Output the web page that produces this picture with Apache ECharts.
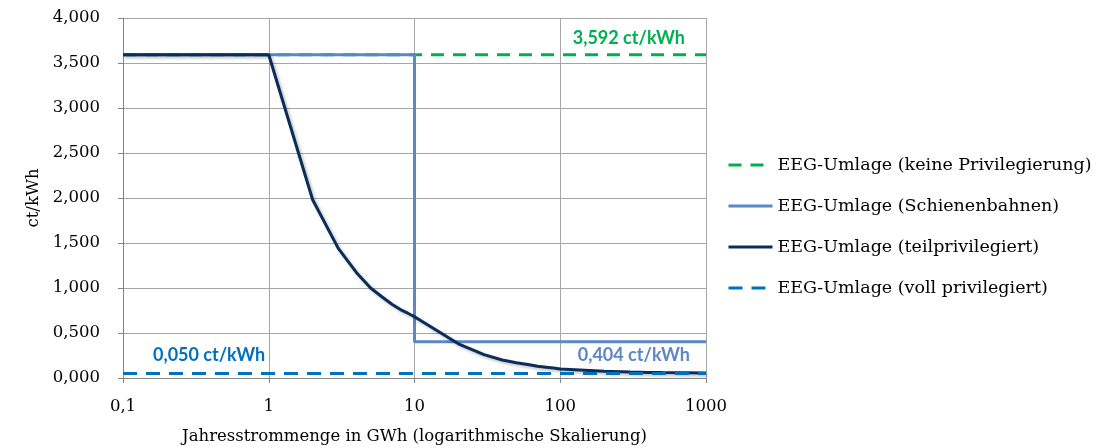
<!DOCTYPE html>
<html><head><meta charset="utf-8">
<script src="https://cdn.jsdelivr.net/npm/echarts@6/dist/echarts.min.js"></script>
<style>html,body{margin:0;padding:0;background:#fff;overflow:hidden}#c{width:1105px;height:448px}</style>
</head><body><div id="c"></div>
<script>
// Data (x in GWh, y in ct/kWh)
const seriesNames = ['EEG-Umlage (keine Privilegierung)','EEG-Umlage (Schienenbahnen)','EEG-Umlage (teilprivilegiert)','EEG-Umlage (voll privilegiert)'];
const keineX = [0.1, 1000];
const keineY = [3.592, 3.592];
const schienX = [0.1, 10, 10, 1000];
const schienY = [3.592, 3.592, 0.404, 0.404];
const teilX = [0.1, 1, 2, 3, 4, 5, 6, 7, 8, 9, 10, 20, 30, 40, 50, 60, 70, 80, 90, 100, 200, 300, 400, 500, 1000];
const teilY = [3.592, 3.592, 1.98, 1.44, 1.17, 1.0, 0.90, 0.82, 0.76, 0.72, 0.68, 0.38, 0.26, 0.20, 0.17, 0.15, 0.13, 0.12, 0.11, 0.10, 0.075, 0.067, 0.062, 0.06, 0.055];
const vollX = [0.1, 1000];
const vollY = [0.05, 0.05];
const xTicks = [0.1, 1, 10, 100, 1000];
const yTicks = [0, 0.5, 1, 1.5, 2, 2.5, 3, 3.5, 4];
const annoKeine = {x: 1000, y: 3.592, text: '3,592 ct/kWh'};
const annoSchien = {x: 1000, y: 0.404, text: '0,404 ct/kWh'};
const annoVoll = {x: 0.1, y: 0.05, text: '0,050 ct/kWh'};

const zip = (xs, ys) => xs.map((x, i) => [x, ys[i]]);
const serif = 'DejaVu Serif';
const fmtY = v => v.toFixed(3).replace('.', ',');
const fmtX = v => String(+(+v).toPrecision(3)).replace('.', ',');

const annoLabel = (a, color, align, offset) => ({
  coord: [a.x, a.y], symbol: 'circle', symbolSize: 1,
  itemStyle: {color: 'rgba(0,0,0,0)'},
  label: {show: true, position: 'inside', formatter: a.text, color: color, fontFamily: 'Lato', fontWeight: 'bold', fontSize: 18, align: align, verticalAlign: 'middle', offset: offset}
});

const chart = echarts.init(document.getElementById('c'));
chart.setOption({
  animation: false,
  grid: {left: 123, right: 399, top: 18, bottom: 70, outerBoundsMode: 'none', containLabel: false},
  xAxis: {
    type: 'log', logBase: 10, min: 0.1, max: 1000,
    name: 'Jahresstrommenge in GWh (logarithmische Skalierung)',
    nameLocation: 'middle', nameGap: 50,
    nameTextStyle: {fontFamily: serif, fontSize: 16.5, color: '#000'},
    axisLine: {lineStyle: {color: '#868686'}},
    axisTick: {show: true, length: 5, lineStyle: {color: '#868686'}},
    axisLabel: {formatter: fmtX, fontFamily: serif, fontSize: 16.5, color: '#000', margin: 20},
    splitLine: {show: true, lineStyle: {color: '#a6a6a6'}},
    minorTick: {show: false}
  },
  yAxis: {
    type: 'value', min: 0, max: 4, interval: 0.5,
    name: 'ct/kWh', nameLocation: 'middle', nameGap: 80, nameRotate: 90,
    nameTextStyle: {fontFamily: serif, fontSize: 16.5, color: '#000'},
    axisLine: {show: true, lineStyle: {color: '#868686'}},
    axisTick: {show: true, length: 5, lineStyle: {color: '#868686'}},
    axisLabel: {formatter: fmtY, fontFamily: serif, fontSize: 16.5, color: '#000', margin: 23},
    splitLine: {show: true, lineStyle: {color: '#a6a6a6'}}
  },
  legend: {
    orient: 'vertical', left: 722, top: 151, itemGap: 23,
    itemWidth: 44, itemHeight: 14,
    itemStyle: {opacity: 0},
    lineStyle: {width: 3},
    textStyle: {fontFamily: serif, fontSize: 17.5, color: '#000'},
    data: seriesNames
  },
  series: [
    {name: seriesNames[0], type: 'line', data: zip(keineX, keineY), symbol: 'none',
     lineStyle: {color: '#00b050', width: 3, type: [13, 9]}, itemStyle: {color: '#00b050'},
     markPoint: {data: [annoLabel(annoKeine, '#00b050', 'right', [-21, -17])]}},
    {name: seriesNames[1], type: 'line', data: zip(schienX, schienY), symbol: 'none',
     lineStyle: {color: '#5b87c5', width: 3}, itemStyle: {color: '#5b87c5'},
     markPoint: {data: [annoLabel(annoSchien, '#5b87c5', 'right', [-16, 14])]}},
    {name: seriesNames[2], type: 'line', data: zip(teilX, teilY), symbol: 'none',
     lineStyle: {color: '#0a2d5a', width: 3, shadowColor: 'rgba(0,0,0,0.25)', shadowBlur: 3, shadowOffsetX: 2, shadowOffsetY: 2}, itemStyle: {color: '#0a2d5a'}},
    {name: seriesNames[3], type: 'line', data: zip(vollX, vollY), symbol: 'none',
     lineStyle: {color: '#0070c0', width: 3, type: [14, 9]}, itemStyle: {color: '#0070c0'},
     markPoint: {data: [annoLabel(annoVoll, '#0070c0', 'left', [30, -18])]}}
  ]
});
</script></body></html>
